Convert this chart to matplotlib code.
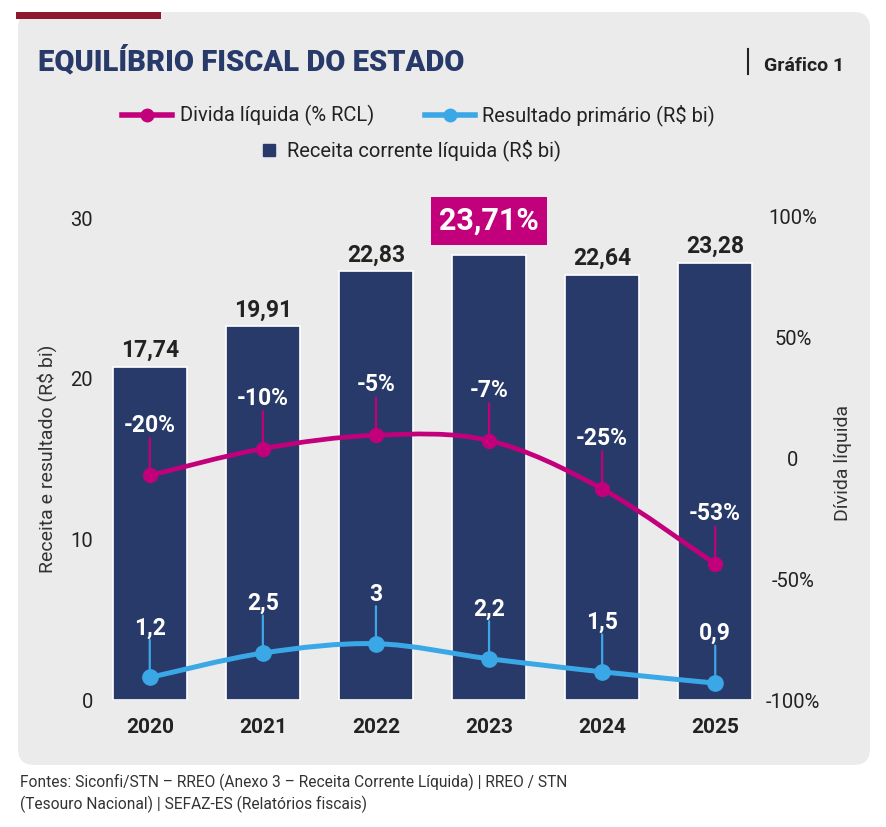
import matplotlib
matplotlib.use('Agg')
import matplotlib.pyplot as plt
from matplotlib.patches import FancyBboxPatch, Rectangle, PathPatch
from matplotlib.lines import Line2D
from matplotlib.path import Path

plt.rcParams['font.family'] = ['Roboto', 'DejaVu Sans']

# data
years = ['2020', '2021', '2022', '2023', '2024', '2025']
receita = [17.74, 19.91, 22.83, 23.71, 22.64, 23.28]
receita_labels = ['17,74', '19,91', '22,83', '23,71%', '22,64', '23,28']
resultado = [1.2, 2.5, 3.0, 2.2, 1.5, 0.9]
resultado_labels = ['1,2', '2,5', '3', '2,2', '1,5', '0,9']
divida = [-20, -10, -5, -7, -25, -53]
divida_labels = ['-20%', '-10%', '-5%', '-7%', '-25%', '-53%']
highlight = 3

NAVY = '#283a6a'
MAGENTA = '#c2007b'
BLUE = '#3aa8e6'
DARKRED = '#8c1a2f'
PANEL = '#ebebeb'
TXT = '#222222'

W, H = 887, 827
fig = plt.figure(figsize=(W / 100, H / 100), dpi=100)
fig.patch.set_facecolor('white')


def fx(x):
    return x / W


def fy(y):
    return 1 - y / H


# background panel + red tab
panel = FancyBboxPatch((0.18, 0.62), 8.52, 7.53,
                       boxstyle='round,pad=0,rounding_size=0.16',
                       transform=fig.dpi_scale_trans, fc=PANEL, ec='none', zorder=-10)
fig.add_artist(panel)
tab = Rectangle((0.16, 8.08), 1.45, 0.075, transform=fig.dpi_scale_trans,
                fc=DARKRED, ec='none', zorder=-5)
fig.add_artist(tab)


def smooth(xs, ys):
    # catmull-rom curve through the points, as bezier segments
    verts = [(xs[0], ys[0])]
    codes = [Path.MOVETO]
    n = len(xs)
    for i in range(n - 1):
        x0, y0 = (xs[i - 1], ys[i - 1]) if i > 0 else (xs[i], ys[i])
        x1, y1 = xs[i], ys[i]
        x2, y2 = xs[i + 1], ys[i + 1]
        x3, y3 = (xs[i + 2], ys[i + 2]) if i + 2 < n else (x2, y2)
        verts += [(x1 + (x2 - x0) / 6, y1 + (y2 - y0) / 6),
                  (x2 - (x3 - x1) / 6, y2 - (y3 - y1) / 6),
                  (x2, y2)]
        codes += [Path.CURVE4] * 3
    return Path(verts, codes)


rect = [fx(100), fy(700), fx(765) - fx(100), fy(215) - fy(700)]
ax = fig.add_axes(rect)
axr = ax.twinx()
axb = ax.twinx()
axd = ax.twinx()

xs = list(range(len(years)))
ax.set_xlim(-0.44, 5.44)

ax.set_ylim(0, 30.2)
ax.set_yticks([0, 10, 20, 30])
ax.tick_params(axis='y', length=0, pad=5, labelsize=14.5, labelcolor=TXT)
ax.set_xticks(xs)
ax.set_xticklabels(years, fontsize=15, fontweight='bold', color=TXT)
ax.tick_params(axis='x', length=0, pad=13)

axr.set_ylim(-98.6, 100.6)
axr.set_yticks([-100, -50, 0, 50, 100])
axr.set_yticklabels(['-100%', '-50%', '0', '50%', '100%'])
axr.tick_params(axis='y', length=0, pad=20, labelsize=14.5, labelcolor=TXT)
for lab in axr.get_yticklabels():
    lab.set_ha('center')

axb.set_ylim(0, 25.84)
axd.set_ylim(-103.7, 77.1)
for a in (axb, axd):
    a.set_yticks([])

for a in (ax, axr, axb, axd):
    a.patch.set_visible(False)
    for s in a.spines.values():
        s.set_visible(False)

# bars
axb.bar(xs, receita, width=0.655, color=NAVY, edgecolor='white', linewidth=1.2, zorder=1)
for i, (v, lab) in enumerate(zip(receita, receita_labels)):
    if i == highlight:
        axb.annotate(lab, (i, v), xytext=(0, 18), textcoords='offset points',
                     ha='center', va='baseline', fontsize=22, fontweight='bold', color='white',
                     bbox=dict(boxstyle='square,pad=0.28', fc=MAGENTA, ec='none'))
    else:
        axb.annotate(lab, (i, v), xytext=(0, 7.2), textcoords='offset points',
                     ha='center', va='baseline', fontsize=16.5, fontweight='bold', color=TXT)

# resultado primario
axb.add_patch(PathPatch(smooth(xs, resultado), fc='none', ec=BLUE, lw=3.6,
                        capstyle='round', zorder=3))
axb.plot(xs, resultado, 'o', ms=11, color=BLUE, zorder=4)
for i, (v, lab) in enumerate(zip(resultado, resultado_labels)):
    axb.annotate('', (i, v), xytext=(0, 27), textcoords='offset points',
                 arrowprops=dict(arrowstyle='-', color=BLUE, lw=1.6, shrinkA=0, shrinkB=0))
    axb.annotate(lab, (i, v), xytext=(0, 31), textcoords='offset points',
                 ha='center', va='baseline', fontsize=16.5, fontweight='bold', color='white')

# divida liquida
axd.add_patch(PathPatch(smooth(xs, divida), fc='none', ec=MAGENTA, lw=3.4,
                        capstyle='round', zorder=3))
axd.plot(xs, divida, 'o', ms=10, color=MAGENTA, zorder=4)
for i, (v, lab) in enumerate(zip(divida, divida_labels)):
    axd.annotate('', (i, v), xytext=(0, 27), textcoords='offset points',
                 arrowprops=dict(arrowstyle='-', color=MAGENTA, lw=1.6, shrinkA=0, shrinkB=0))
    axd.annotate(lab, (i, v), xytext=(0, 31.5), textcoords='offset points',
                 ha='center', va='baseline', fontsize=16.5, fontweight='bold', color='white')

# axis titles
fig.text(fx(47), fy(459), 'Receita e resultado (R$ bi)', rotation=90, ha='center', va='center',
         fontsize=14, color='#333333')
fig.text(fx(843), fy(463), 'Dívida líquida', rotation=90, ha='center', va='center',
         fontsize=14, color='#333333')

# title
fig.text(fx(38), fy(70), 'EQUILÍBRIO FISCAL DO ESTADO', fontsize=21, fontweight='heavy',
         color=NAVY, va='baseline')
fig.add_artist(Line2D([fx(748), fx(748)], [fy(49), fy(74)], color=TXT, lw=1.5))
fig.text(fx(764), fy(71), 'Gráfico 1', fontsize=14, fontweight='bold', color=TXT, va='baseline')

# legend
fig.add_artist(Line2D([fx(122), fx(172)], [fy(115), fy(115)], color=MAGENTA, lw=4))
fig.add_artist(Line2D([fx(147)], [fy(115)], marker='o', ms=9, color=MAGENTA))
fig.text(fx(180), fy(115), 'Divida líquida (% RCL)', fontsize=14.5, color=TXT, va='center')
fig.add_artist(Line2D([fx(425), fx(475)], [fy(115), fy(115)], color=BLUE, lw=4))
fig.add_artist(Line2D([fx(450)], [fy(115)], marker='o', ms=9, color=BLUE))
fig.text(fx(482), fy(115), 'Resultado primário (R$ bi)', fontsize=14.5, color=TXT, va='center')
fig.add_artist(Line2D([fx(269)], [fy(150)], marker='s', ms=9, color=NAVY, lw=0))
fig.text(fx(287), fy(150), 'Receita corrente líquida (R$ bi)', fontsize=14.5, color=TXT, va='center')

# sources
fig.text(fx(20), fy(787), 'Fontes: Siconfi/STN – RREO (Anexo 3 – Receita Corrente Líquida) | RREO / STN',
         fontsize=11.2, color='#333333', va='baseline')
fig.text(fx(20), fy(809), '(Tesouro Nacional) | SEFAZ-ES (Relatórios fiscais)',
         fontsize=11.2, color='#333333', va='baseline')

fig.savefig('out.png', dpi=100, facecolor='white')
